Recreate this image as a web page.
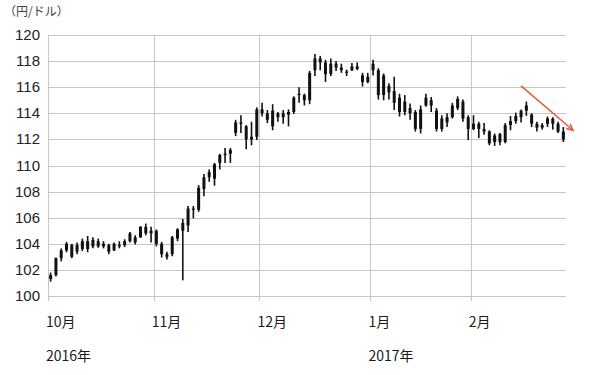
<!DOCTYPE html>
<html>
<head>
<meta charset="utf-8">
<script src="https://cdn.jsdelivr.net/npm/d3@7"></script>
<style>
  body { margin: 0; background: #fff; }
  svg { display: block; }
</style>
</head>
<body>
<div id="graph"></div>
<script>
// Trading days (Tokyo), Oct 2016 - Feb 2017
const dates = [
  "2016-10-03","2016-10-04","2016-10-05","2016-10-06","2016-10-07","2016-10-11","2016-10-12","2016-10-13","2016-10-14","2016-10-17",
  "2016-10-18","2016-10-19","2016-10-20","2016-10-21","2016-10-24","2016-10-25","2016-10-26","2016-10-27","2016-10-28","2016-10-31",
  "2016-11-01","2016-11-02","2016-11-04","2016-11-07","2016-11-08","2016-11-09","2016-11-10","2016-11-11","2016-11-14","2016-11-15",
  "2016-11-16","2016-11-17","2016-11-18","2016-11-21","2016-11-22","2016-11-24","2016-11-25","2016-11-28","2016-11-29","2016-11-30",
  "2016-12-01","2016-12-02","2016-12-05","2016-12-06","2016-12-07","2016-12-08","2016-12-09","2016-12-12","2016-12-13","2016-12-14",
  "2016-12-15","2016-12-16","2016-12-19","2016-12-20","2016-12-21","2016-12-22","2016-12-26","2016-12-27","2016-12-28","2016-12-29",
  "2016-12-30","2017-01-04","2017-01-05","2017-01-06","2017-01-10","2017-01-11","2017-01-12","2017-01-13","2017-01-16","2017-01-17",
  "2017-01-18","2017-01-19","2017-01-20","2017-01-23","2017-01-24","2017-01-25","2017-01-26","2017-01-27","2017-01-30","2017-01-31",
  "2017-02-01","2017-02-02","2017-02-03","2017-02-06","2017-02-07","2017-02-08","2017-02-09","2017-02-10","2017-02-13","2017-02-14",
  "2017-02-15","2017-02-16","2017-02-17","2017-02-20","2017-02-21","2017-02-22","2017-02-23","2017-02-24"
];

const high = [
  101.8,102.95,103.65,104.15,104.0,104.1,104.4,104.6,104.5,104.4,
  104.2,104.0,104.1,104.2,104.35,104.9,104.65,105.35,105.55,105.3,
  105.1,104.15,103.4,104.6,105.2,105.9,106.9,106.9,108.5,109.35,
  109.7,110.2,110.9,111.35,111.35,113.5,113.85,113.1,113.35,114.45,
  114.8,114.25,114.7,114.1,114.25,114.3,115.3,116.0,115.5,117.25,
  118.55,118.4,118.1,118.2,118.0,117.8,117.35,117.85,117.9,117.1,
  117.1,118.1,117.45,117.05,116.3,116.8,115.5,115.4,114.75,114.25,
  114.6,115.5,115.25,114.4,113.85,114.0,114.8,115.3,115.05,113.85,
  113.85,113.35,113.25,112.7,112.45,112.5,113.25,113.8,114.05,114.3,
  114.9,114.0,113.35,113.25,113.75,113.7,113.35,112.95
];

const low = [
  101.1,101.5,102.65,103.35,102.9,103.2,103.45,103.35,103.65,103.7,
  103.65,103.2,103.45,103.65,103.75,104.1,103.95,104.45,104.65,104.1,
  103.8,102.95,102.8,103.05,104.2,101.2,104.9,105.95,106.45,107.65,
  108.75,108.45,109.7,110.2,110.2,112.25,112.5,111.25,111.55,111.95,
  113.75,113.25,112.7,113.35,113.2,113.0,113.95,114.8,114.6,114.7,
  116.85,117.3,116.4,116.85,117.25,117.1,116.85,117.25,117.3,116.05,
  116.3,116.9,115.05,115.0,115.05,114.25,113.75,113.85,113.5,112.6,
  112.45,114.5,114.1,112.6,112.6,112.95,113.6,114.25,113.35,111.95,
  112.7,112.1,112.35,111.55,111.5,111.55,111.7,112.7,113.2,113.3,
  113.8,112.95,112.6,112.75,112.95,112.75,112.5,111.8
];

const open = [
  101.3,101.6,102.9,103.5,103.9,103.4,103.6,104.2,103.8,104.2,
  103.8,103.9,103.5,103.8,103.9,104.2,104.5,104.5,105.3,104.8,
  105.0,104.0,103.0,103.2,104.4,105.0,105.4,106.7,106.6,108.2,
  109.1,109.0,110.2,110.8,110.9,112.5,113.3,113.0,112.0,112.2,
  114.3,114.0,113.0,114.0,113.7,113.9,114.1,115.4,115.4,115.0,
  117.3,118.2,117.9,117.0,117.8,117.5,117.2,117.3,117.6,116.9,
  116.4,117.3,117.3,115.4,116.1,115.7,115.2,114.1,114.4,114.1,
  112.8,114.6,115.0,114.2,112.8,113.7,113.7,114.4,114.9,113.7,
  112.8,113.2,112.8,112.6,111.8,112.4,111.8,113.1,113.4,113.7,
  114.2,113.9,113.2,112.9,113.2,113.6,113.2,112.6
];

const close = [
  101.6,102.9,103.5,104.0,103.0,103.9,104.2,103.6,104.3,103.8,
  104.0,103.4,104.0,103.9,104.2,104.8,104.1,105.3,104.8,105.0,
  104.0,103.2,103.2,104.5,105.1,105.6,106.7,106.6,108.3,109.1,
  109.5,110.1,110.8,110.9,111.2,113.3,113.2,112.0,112.2,114.3,
  114.0,113.5,114.2,113.7,114.0,114.1,115.2,115.5,115.0,117.1,
  118.2,117.9,117.0,117.8,117.5,117.3,117.1,117.6,117.4,116.4,
  116.8,117.8,115.4,116.9,115.6,114.8,114.1,114.9,114.0,112.8,
  114.3,115.2,114.6,112.8,113.6,113.3,114.6,115.1,113.6,112.8,
  113.2,112.8,112.6,111.7,112.3,111.8,113.1,113.4,113.8,114.2,
  114.6,113.2,112.9,113.1,113.6,113.2,112.6,112.0
];

const yTicks = [100, 102, 104, 106, 108, 110, 112, 114, 116, 118, 120];
const unitLabel = "（円/ドル）";

// trend arrow annotation (date, value) -> end value
const trendStart = ["2017-02-14", 116.1];
const trendEndValue = 112.7;

const width = 600;
const height = 375;
const margin = { top: 35, bottom: 79, left: 48, right: 34 };

const parse = d3.timeParse("%Y-%m-%d");
const data = dates.map((d, i) => ({
  date: parse(d),
  key: d,
  high: high[i],
  low: low[i],
  open: open[i],
  close: close[i]
}));

const svg = d3
  .select("#graph")
  .append("svg")
  .attr("width", width)
  .attr("height", height);

const xScale = d3
  .scaleBand()
  .domain(dates)
  .range([margin.left, width - margin.right])
  .padding(0);

const yScale = d3
  .scaleLinear()
  .domain([100, 120])
  .range([height - margin.bottom, margin.top]);

const x0 = margin.left;
const x1 = width - margin.right;
const yBottom = yScale(100);

// horizontal grid
svg
  .append("g")
  .selectAll("line")
  .data(yTicks)
  .enter()
  .append("line")
  .attr("x1", x0)
  .attr("x2", x1)
  .attr("y1", (d) => Math.round(yScale(d)) + 0.5)
  .attr("y2", (d) => Math.round(yScale(d)) + 0.5)
  .attr("stroke", "#c6c6c6")
  .attr("stroke-width", 1);

// y labels
svg
  .append("g")
  .selectAll("text")
  .data(yTicks)
  .enter()
  .append("text")
  .attr("x", 40)
  .attr("y", (d) => yScale(d) + 5)
  .attr("text-anchor", "end")
  .attr("font-family", "Liberation Sans, Arial, sans-serif")
  .attr("font-size", 15)
  .attr("fill", "#222")
  .text((d) => d);

// month starts
const monthStarts = data.filter(
  (d, i) => i === 0 || d.date.getMonth() !== data[i - 1].date.getMonth()
);

svg
  .append("g")
  .selectAll("line")
  .data(monthStarts)
  .enter()
  .append("line")
  .attr("x1", (d) => Math.round(xScale(d.key)) + 0.5)
  .attr("x2", (d) => Math.round(xScale(d.key)) + 0.5)
  .attr("y1", margin.top)
  .attr("y2", yBottom + 5)
  .attr("stroke", "#c6c6c6")
  .attr("stroke-width", 1);

const labelFont = "'Noto Sans CJK JP', 'Noto Sans', sans-serif";

svg
  .append("g")
  .selectAll("text")
  .data(monthStarts)
  .enter()
  .append("text")
  .attr("x", (d) => xScale(d.key) - 2)
  .attr("y", 327)
  .attr("font-family", labelFont)
  .attr("font-size", 14)
  .attr("fill", "#1a1a1a")
  .text((d) => d.date.getMonth() + 1 + "月");

svg
  .append("g")
  .selectAll("text")
  .data(monthStarts.filter((d, i) => i === 0 || d.date.getMonth() === 0))
  .enter()
  .append("text")
  .attr("x", (d) => xScale(d.key) - 2)
  .attr("y", 361)
  .attr("font-family", labelFont)
  .attr("font-size", 14)
  .attr("fill", "#1a1a1a")
  .text((d) => d.date.getFullYear() + "年");

svg
  .append("text")
  .attr("x", 4)
  .attr("y", 16)
  .attr("font-family", labelFont)
  .attr("font-size", 12)
  .attr("fill", "#444")
  .text(unitLabel);

// candles
const cx = (d) => xScale(d.key) + xScale.bandwidth() / 2;
const candles = svg.append("g").attr("fill", "#111").attr("stroke", "#111");

candles
  .selectAll("line")
  .data(data)
  .enter()
  .append("line")
  .attr("x1", cx)
  .attr("x2", cx)
  .attr("y1", (d) => yScale(d.high))
  .attr("y2", (d) => yScale(d.low))
  .attr("stroke-width", 1.6);

candles
  .selectAll("rect")
  .data(data)
  .enter()
  .append("rect")
  .attr("x", (d) => cx(d) - 1.5)
  .attr("width", 3)
  .attr("y", (d) => yScale(Math.max(d.open, d.close)))
  .attr("height", (d) =>
    Math.max(1, Math.abs(yScale(d.open) - yScale(d.close)))
  )
  .attr("stroke", "none");

// trend arrow
const ax1 = xScale(trendStart[0]) + xScale.bandwidth() / 2;
const ay1 = yScale(trendStart[1]);
const ax2 = x1 + 7;
const ay2 = yScale(trendEndValue);
const ang = Math.atan2(ay2 - ay1, ax2 - ax1);
const head = 7;
const arrow = svg
  .append("g")
  .attr("stroke", "#e8583a")
  .attr("stroke-width", 1.5)
  .attr("fill", "none");
arrow
  .append("line")
  .attr("x1", ax1)
  .attr("y1", ay1)
  .attr("x2", ax2)
  .attr("y2", ay2);
arrow
  .append("path")
  .attr(
    "d",
    `M${ax2 - head * Math.cos(ang - 0.45)},${ay2 - head * Math.sin(ang - 0.45)}` +
      `L${ax2},${ay2}` +
      `L${ax2 - head * Math.cos(ang + 0.45)},${ay2 - head * Math.sin(ang + 0.45)}`
  );
</script>
</body>
</html>
